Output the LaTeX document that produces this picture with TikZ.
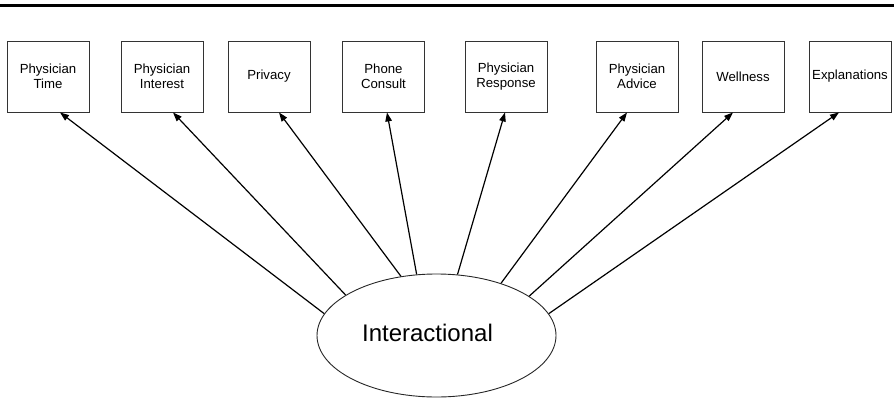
\documentclass[tikz,border=0pt]{standalone}
\usepackage{fontspec}
\setmainfont{Liberation Sans}
\usetikzlibrary{arrows.meta,shapes.geometric}
\tikzset{
  itembox/.style={draw=black!80, line width=0.9pt, minimum width=82pt, minimum height=71pt,
    inner sep=0pt, align=center, font=\fontsize{13.2pt}{15pt}\selectfont},
  factor/.style={ellipse, draw=black!85, line width=0.9pt, minimum width=239pt, minimum height=123pt, inner sep=0pt},
  load/.style={line width=1.2pt, -{Triangle[length=9pt,width=6.5pt]}}
}
\begin{document}
\begin{tikzpicture}[x=1pt,y=-1pt]
\useasboundingbox (0,0) rectangle (894,399);
% rule across the top
\draw[line width=3.5pt] (0,5.7) coordinate (rl) -- (894,5.7) coordinate (rr);
% observed indicators
\node[itembox] (b1) at (48,76.5) {Physician\\Time};
\node[itembox] (b2) at (162,76.5) {Physician\\Interest};
\node[itembox] (b3) at (269,76.5) {Privacy};
\node[itembox] (b4) at (383.5,76.5) {Phone\\Consult};
\node[itembox] (b5) at (506,76.5) {Physician\\Response};
\node[itembox] (b6) at (637,76.5) {Physician\\Advice};
\node[itembox] (b7) at (743,76.5) {Wellness};
\node[itembox] (b8) at (850,76.5) {Explanations};
% latent factor
\node[factor] (f) at (436.5,335.5) {};
\node[font=\fontsize{24pt}{28pt}\selectfont, anchor=center] (fl) at (427.5,333) {Interactional};
% loadings
\draw[load] (f.169) -- ([xshift=12pt]b1.south);
\draw[load] (f.156.5) -- ([xshift=11pt]b2.south);
\draw[load] (f.121) -- ([xshift=10pt]b3.south);
\draw[load] (f.108.5) -- ([xshift=3.5pt]b4.south);
\draw[load] (f.71.5) -- ([xshift=-1pt]b5.south);
\draw[load] (f.39.5) -- ([xshift=-10pt]b6.south);
\draw[load] (f.23.5) -- ([xshift=-10pt]b7.south);
\draw[load] (f.11) -- ([xshift=-11pt]b8.south);
\end{tikzpicture}
\end{document}
